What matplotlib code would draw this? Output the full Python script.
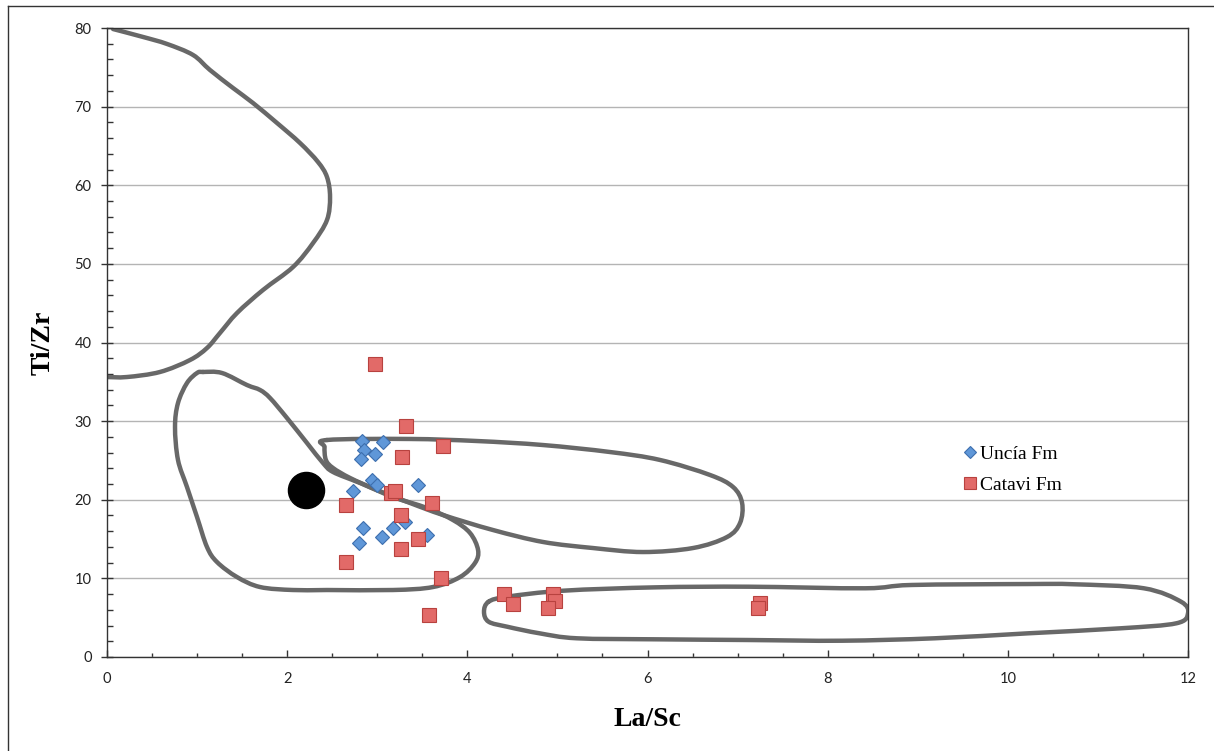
import matplotlib
matplotlib.use("Agg")
import matplotlib.pyplot as plt
from matplotlib.lines import Line2D
from matplotlib.path import Path
from matplotlib.patches import PathPatch
from matplotlib.ticker import MultipleLocator

# ---- data ----
uncia_x = [2.83, 3.06, 2.85, 2.975, 2.82, 2.94, 3.00, 3.45, 2.73, 2.84, 3.31, 3.17, 3.55, 2.80, 3.05]
uncia_y = [27.5, 27.3, 26.3, 25.8, 25.2, 22.5, 21.9, 21.9, 21.1, 16.4, 17.2, 16.4, 15.5, 14.5, 15.3]

catavi_x = [2.975, 3.32, 3.73, 3.275, 3.15, 3.20, 2.65, 3.61, 3.26, 3.45, 3.26, 2.65, 3.71, 3.57,
            4.41, 4.51, 4.95, 4.97, 4.90, 7.25, 7.23]
catavi_y = [37.3, 29.4, 26.8, 25.4, 20.9, 21.1, 19.3, 19.6, 18.1, 15.0, 13.7, 12.1, 10.0, 5.3,
            8.0, 6.8, 8.0, 7.1, 6.2, 6.9, 6.2]

ref_x = [2.21]
ref_y = [21.2]

# field outlines
field1_x = [0.067, 0.40, 0.666, 0.955, 1.143, 1.399, 1.621, 1.887, 2.143, 2.342, 2.442, 2.476,
            2.442, 2.287, 2.065, 1.732, 1.443, 1.254, 1.11, 0.921, 0.588, 0.222, 0.0]
field1_y = [79.87, 78.86, 77.97, 76.57, 74.66, 72.37, 70.46, 67.92, 65.37, 62.96, 61.05, 58.5,
            55.58, 52.65, 49.6, 46.68, 43.75, 41.21, 39.3, 37.77, 36.25, 35.61, 35.61]

field2_x = [1.066, 1.277, 1.554, 1.699, 1.81, 1.998, 2.220, 2.398, 2.509, 2.809, 3.175, 3.552,
            3.841, 4.03, 4.119, 4.085, 3.919, 3.619, 3.175, 2.442, 2.065, 1.699, 1.443, 1.221,
            1.11, 0.999, 0.888, 0.788, 0.755, 0.788, 0.888, 0.999, 1.066]
field2_y = [36.25, 36.12, 34.59, 33.96, 32.94, 30.40, 27.22, 24.67, 23.53, 22.13, 20.35, 18.95,
            17.42, 15.77, 13.61, 11.96, 10.17, 8.90, 8.52, 8.52, 8.52, 8.90, 10.17, 12.08,
            13.99, 17.81, 21.62, 25.06, 29.25, 32.3, 34.85, 36.12, 36.25]

field3_x = [2.442, 3.364, 4.107, 4.84, 5.584, 6.139, 6.694, 6.95, 7.05, 7.027, 6.883, 6.505,
            5.95, 5.395, 4.84, 4.285, 3.73, 3.364, 2.997, 2.698, 2.509, 2.43, 2.415, 2.442]
field3_y = [27.6, 27.73, 27.47, 26.96, 26.07, 25.06, 23.15, 21.62, 19.59, 17.04, 15.26, 13.86,
            13.35, 13.86, 14.63, 16.15, 18.06, 19.59, 21.24, 22.77, 24.04, 25.06, 26.71, 27.6]

field4_x = [4.236, 4.443, 5.061, 6.093, 7.125, 8.415, 8.931, 10.22, 10.735, 11.51, 11.923, 12.0,
            11.872, 11.252, 10.22, 9.189, 8.157, 7.125, 6.093, 5.216, 4.803, 4.443, 4.236, 4.185, 4.236]
field4_y = [7.03, 7.67, 8.43, 8.86, 8.94, 8.74, 9.16, 9.28, 9.25, 8.74, 7.03, 5.56,
            4.29, 3.65, 3.01, 2.38, 2.07, 2.16, 2.25, 2.38, 3.01, 3.85, 4.49, 5.76, 7.03]

x_ticks = [0, 2, 4, 6, 8, 10, 12]
y_ticks = [0, 10, 20, 30, 40, 50, 60, 70, 80]


def smooth_path(xs, ys, closed):
    """Bezier path through the given vertices (Catmull-Rom tangents)."""
    pts = list(zip(xs, ys))
    if closed and pts[0] == pts[-1]:
        pts = pts[:-1]
    n = len(pts)
    verts = [pts[0]]
    codes = [Path.MOVETO]
    seg_count = n if closed else n - 1
    for i in range(seg_count):
        p1 = pts[i]
        p2 = pts[(i + 1) % n]
        if closed:
            p0 = pts[(i - 1) % n]
            p3 = pts[(i + 2) % n]
        else:
            p0 = pts[i - 1] if i > 0 else p1
            p3 = pts[i + 2] if i + 2 < n else p2
        c1 = (p1[0] + (p2[0] - p0[0]) / 6.0, p1[1] + (p2[1] - p0[1]) / 6.0)
        c2 = (p2[0] - (p3[0] - p1[0]) / 6.0, p2[1] - (p3[1] - p1[1]) / 6.0)
        verts += [c1, c2, p2]
        codes += [Path.CURVE4] * 3
    return Path(verts, codes)


# ---- figure ----
W, H = 1214, 751
fig = plt.figure(figsize=(W / 100, H / 100), dpi=100)
ax = fig.add_axes([107 / W, 1 - 657 / H, (1188 - 107) / W, (657 - 28) / H])

ax.set_xlim(0, 12)
ax.set_ylim(0, 80)
ax.set_xticks(x_ticks)
ax.set_yticks(y_ticks)
ax.xaxis.set_minor_locator(MultipleLocator(0.5))
ax.yaxis.set_minor_locator(MultipleLocator(2))

ax.yaxis.grid(True, which='major', color='#b4b4b4', linewidth=1.0, zorder=0)
ax.set_axisbelow(True)

for sp in ax.spines.values():
    sp.set_color('#333333')
    sp.set_linewidth(1.0)

tick_font = 'Lato'
ax.tick_params(axis='x', which='major', direction='in', length=5, width=1, color='#333333',
               labelsize=10.5, pad=11)
ax.tick_params(axis='x', which='minor', direction='in', length=3, width=1, color='#333333')
ax.tick_params(axis='y', which='major', direction='inout', length=8, width=1, color='#333333',
               labelsize=10.5, pad=7)
ax.tick_params(axis='y', which='minor', direction='in', length=4, width=1, color='#333333')
ax.tick_params(top=False, right=False, which='both')
for lab in ax.get_xticklabels() + ax.get_yticklabels():
    lab.set_fontfamily(tick_font)
    lab.set_color('#222222')

# outlines
for fx, fy, closed in [(field1_x, field1_y, False), (field2_x, field2_y, True),
                       (field3_x, field3_y, True), (field4_x, field4_y, True)]:
    patch = PathPatch(smooth_path(fx, fy, closed), facecolor='none', edgecolor='#686868',
                      linewidth=3.2, joinstyle='round', capstyle='round', zorder=2)
    ax.add_patch(patch)

ax.plot(uncia_x, uncia_y, linestyle='none', marker='D', markersize=6.8,
        markerfacecolor='#5f97d8', markeredgecolor='#3d6fae', markeredgewidth=0.8,
        zorder=3, label='Uncía Fm')
ax.plot(catavi_x, catavi_y, linestyle='none', marker='s', markersize=10,
        markerfacecolor='#e26a68', markeredgecolor='#b8423f', markeredgewidth=0.8,
        zorder=4, label='Catavi Fm')
ax.plot(ref_x, ref_y, linestyle='none', marker='o', markersize=26,
        markerfacecolor='black', markeredgecolor='black', zorder=5)

ax.set_xlabel('La/Sc', fontfamily='Liberation Serif', fontweight='bold', fontsize=20, labelpad=15)
ax.set_ylabel('Ti/Zr', fontfamily='Liberation Serif', fontweight='bold', fontsize=20, labelpad=14)

leg_handles = [
    Line2D([], [], linestyle='none', marker='D', markersize=6, markerfacecolor='#5f97d8',
           markeredgecolor='#3d6fae', markeredgewidth=0.8),
    Line2D([], [], linestyle='none', marker='s', markersize=8, markerfacecolor='#e26a68',
           markeredgecolor='#b8423f', markeredgewidth=0.8),
]
ax.legend(leg_handles, ['Uncía Fm', 'Catavi Fm'], loc='upper left',
          bbox_to_anchor=((964 - 107) / (1188 - 107), (657 - 445) / (657 - 28)),
          frameon=False, prop={'family': 'Liberation Serif', 'size': 14},
          handlelength=0.6, handletextpad=0.2, labelspacing=0.72, borderpad=0, borderaxespad=0)

# outer border (left and top)
fig.add_artist(Line2D([8 / W, 8 / W], [0, 1 - 6 / H], transform=fig.transFigure,
                      color='#333333', linewidth=1.0))
fig.add_artist(Line2D([8 / W, 1], [1 - 6 / H, 1 - 6 / H], transform=fig.transFigure,
                      color='#333333', linewidth=1.0))

fig.savefig('out.png', dpi=100)
